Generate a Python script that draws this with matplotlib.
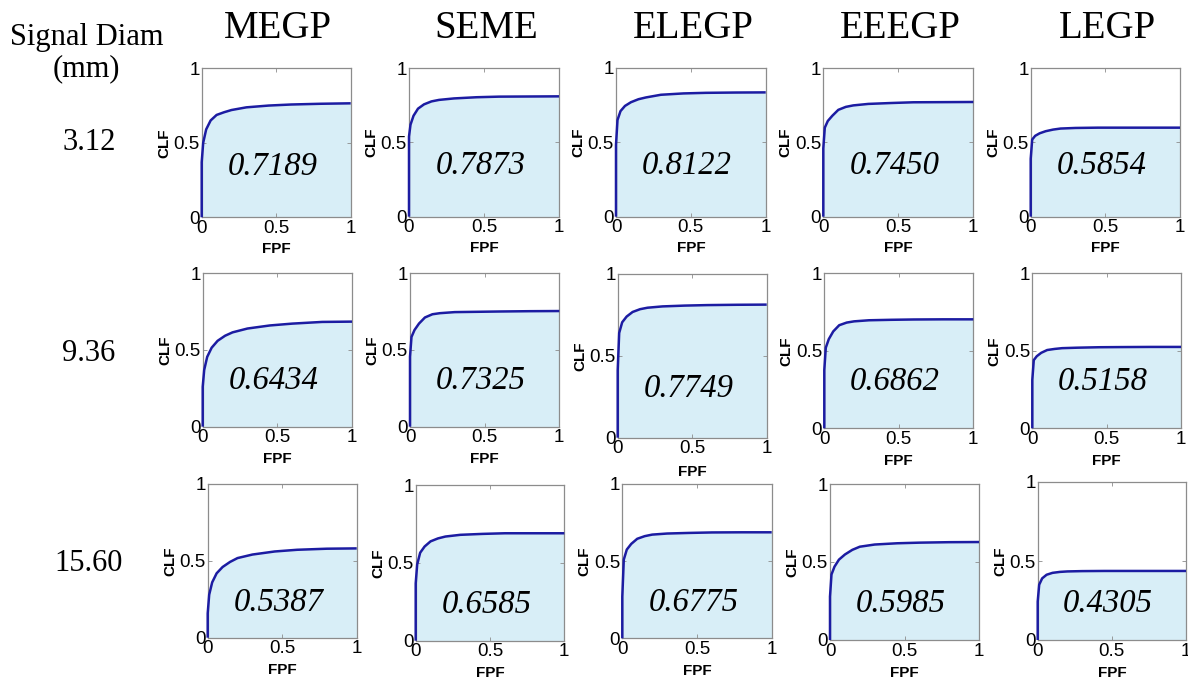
import matplotlib
matplotlib.use("Agg")
import matplotlib.pyplot as plt

# ---- data -------------------------------------------------------------
methods = ["MEGP", "SEME", "ELEGP", "EEEGP", "LEGP"]
diameters = ["3.12", "9.36", "15.60"]

# false-positive fraction sample points (first two points trace the vertical start)
fpf = [0, 0, 0.01, 0.03, 0.06, 0.10, 0.15, 0.20, 0.30, 0.45, 0.60, 0.80, 1.00]

# correct-localization fraction per method, one row per signal diameter
clf_megp = [
    [0, 0.37, 0.50, 0.59, 0.650, 0.687, 0.705, 0.720, 0.738, 0.750, 0.757, 0.762, 0.765],
    [0, 0.26, 0.37, 0.455, 0.515, 0.560, 0.593, 0.615, 0.640, 0.660, 0.672, 0.683, 0.685],
    [0, 0.158, 0.28, 0.36, 0.419, 0.460, 0.493, 0.518, 0.541, 0.561, 0.572, 0.579, 0.581],
]
clf_seme = [
    [0, 0.54, 0.62, 0.68, 0.728, 0.757, 0.777, 0.787, 0.797, 0.805, 0.809, 0.810, 0.811],
    [0, 0.456, 0.585, 0.63, 0.672, 0.712, 0.733, 0.740, 0.747, 0.749, 0.751, 0.753, 0.754],
    [0, 0.368, 0.49, 0.565, 0.605, 0.638, 0.657, 0.669, 0.680, 0.686, 0.690, 0.690, 0.690],
]
clf_elegp = [
    [0, 0.483, 0.65, 0.71, 0.745, 0.770, 0.790, 0.802, 0.820, 0.829, 0.833, 0.835, 0.836],
    [0, 0.413, 0.64, 0.705, 0.740, 0.768, 0.785, 0.794, 0.802, 0.807, 0.810, 0.812, 0.813],
    [0, 0.27, 0.51, 0.575, 0.612, 0.645, 0.662, 0.672, 0.679, 0.683, 0.686, 0.687, 0.687],
]
clf_eeegp = [
    [0, 0.46, 0.60, 0.645, 0.680, 0.720, 0.740, 0.750, 0.760, 0.766, 0.771, 0.772, 0.773],
    [0, 0.376, 0.52, 0.575, 0.625, 0.665, 0.682, 0.690, 0.697, 0.700, 0.702, 0.703, 0.703],
    [0, 0.278, 0.42, 0.47, 0.515, 0.548, 0.578, 0.598, 0.612, 0.620, 0.624, 0.627, 0.628],
]
clf_legp = [
    [0, 0.39, 0.52, 0.545, 0.562, 0.576, 0.587, 0.594, 0.598, 0.600, 0.600, 0.600, 0.600],
    [0, 0.312, 0.44, 0.465, 0.487, 0.505, 0.512, 0.517, 0.520, 0.523, 0.524, 0.525, 0.525],
    [0, 0.243, 0.35, 0.39, 0.413, 0.425, 0.431, 0.434, 0.436, 0.437, 0.437, 0.437, 0.437],
]
clf_all = [clf_megp, clf_seme, clf_elegp, clf_eeegp, clf_legp]

# area under each curve, per method, one entry per diameter
auc_megp = [0.7189, 0.6434, 0.5387]
auc_seme = [0.7873, 0.7325, 0.6585]
auc_elegp = [0.8122, 0.7749, 0.6775]
auc_eeegp = [0.7450, 0.6862, 0.5985]
auc_legp = [0.5854, 0.5158, 0.4305]
auc_all = [auc_megp, auc_seme, auc_elegp, auc_eeegp, auc_legp]

# ---- layout (pixel boxes: left, top, right, bottom) -------------------
W, H = 1188, 679
boxes = [
    [(201.7, 68.3, 350.7, 217.3), (409, 68.3, 559, 216.7), (616, 68, 765.7, 216.7),
     (823.3, 68.3, 973.3, 216.7), (1030.7, 68.3, 1180, 216.7)],
    [(202.7, 273.3, 352, 426.7), (410, 273.3, 559.3, 426.7), (617.7, 274, 766.7, 437.7),
     (824.3, 273.3, 973.3, 428.3), (1032.3, 273.3, 1181, 428.3)],
    [(207.7, 484, 356.7, 637.7), (415.7, 485, 564.3, 640.7), (622.3, 484, 771.7, 638.3),
     (830, 484, 979, 640), (1037.7, 482, 1186, 640)],
]
auc_text_y = [0.34, 0.30, 0.23]

line_color = "#1c1ca2"
fill_color = "#d8eef7"
spine_color = "#8c8c8c"
serif = "Liberation Serif"
sans = "Liberation Sans"

fig = plt.figure(figsize=(W / 100, H / 100), dpi=100)
fig.patch.set_facecolor("white")

for r in range(3):
    for c in range(5):
        l, t, rr, b = boxes[r][c]
        ax = fig.add_axes([l / W, 1 - b / H, (rr - l) / W, (b - t) / H])
        y = clf_all[c][r]
        ax.fill_between(fpf, y, 0, color=fill_color, linewidth=0, zorder=1)
        ax.plot(fpf, y, color=line_color, linewidth=1.8, solid_capstyle="butt",
                clip_on=False, zorder=5)
        ax.set_xlim(0, 1)
        ax.set_ylim(0, 1)
        ax.set_xticks([0, 0.5, 1])
        ax.set_yticks([0, 0.5, 1])
        ax.set_xticklabels(["0", "0.5", "1"], fontfamily=sans, fontsize=13.5)
        ax.set_yticklabels(["0", "0.5", "1"], fontfamily=sans, fontsize=13.5)
        ax.tick_params(direction="in", length=3, width=0.6, color=spine_color,
                       top=True, right=True)
        ax.tick_params(axis="x", pad=2)
        ax.tick_params(axis="y", pad=1.5)
        for s in ax.spines.values():
            s.set_color(spine_color)
            s.set_linewidth(0.9)
        ax.set_xlabel("FPF", fontfamily=sans, fontsize=11, fontweight="bold")
        ax.set_ylabel("CLF", fontfamily=sans, fontsize=11, fontweight="bold")
        ax.xaxis.set_label_coords(0.5, -0.165)
        ax.yaxis.set_label_coords(-0.205, 0.5)
        ax.text(0.475, auc_text_y[r], f"{auc_all[c][r]:.4f}", transform=ax.transAxes,
                ha="center", va="center", fontfamily=serif, fontstyle="italic",
                fontsize=23.5, zorder=6)

# column titles
for c, name in enumerate(methods):
    l, t, rr, b = boxes[0][c]
    fig.text(((l + rr) / 2 + 2) / W, 1 - 38 / H, name, ha="center", va="baseline",
             fontfamily=serif, fontsize=28)

# row header and diameter labels
fig.text(86.5 / W, 1 - 45 / H, "Signal Diam", ha="center", va="baseline",
         fontfamily=serif, fontsize=22)
fig.text(86.5 / W, 1 - 76 / H, "(mm)", ha="center", va="baseline",
         fontfamily=serif, fontsize=22)
row_baselines = [150, 361, 571]
for r, d in enumerate(diameters):
    fig.text(89 / W, 1 - row_baselines[r] / H, d, ha="center", va="baseline",
             fontfamily=serif, fontsize=22)

fig.savefig("out.png", dpi=100, facecolor="white")
